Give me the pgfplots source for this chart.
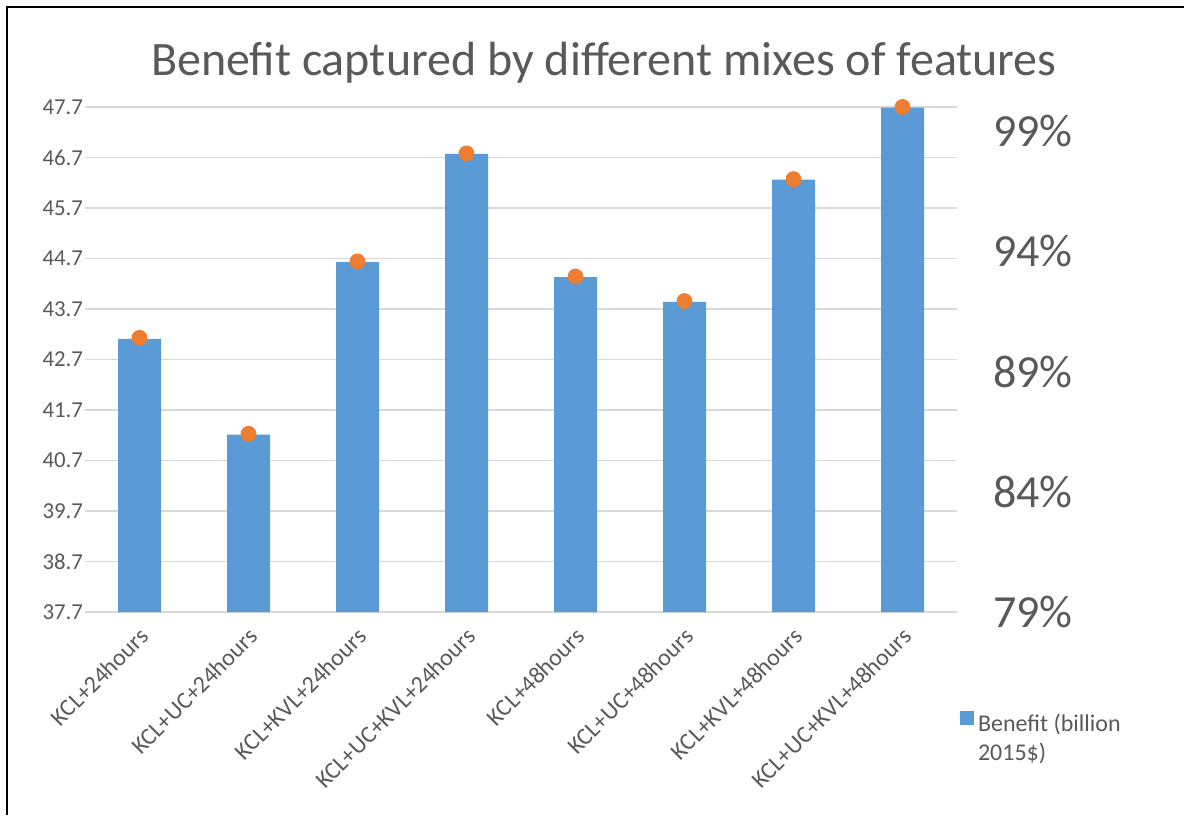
\documentclass[border=0pt]{standalone}
\usepackage{pgfplots}
\usepackage{pgfplotstable}
\pgfplotsset{compat=1.18}
\usepackage{fontspec}
\setmainfont{Carlito}

\definecolor{barblue}{HTML}{5B9BD5}
\definecolor{dotorange}{HTML}{ED7D31}
\definecolor{txtgray}{HTML}{595959}
\definecolor{gridgray}{HTML}{D9D9D9}

% benefit in billion 2015$ and its share of the best mix (percent)
\pgfplotstableread{
idx benefit share
0 43.11 90.40
1 41.21 86.41
2 44.63 93.58
3 46.77 98.07
4 44.33 92.95
5 43.84 91.93
6 46.26 97.00
7 47.69 100.00
}\benefits

\begin{document}
\begin{tikzpicture}
\useasboundingbox (0,0) rectangle (592pt,407.5pt);
\draw[line width=1pt, black] (3.5pt,0pt) -- (3.5pt,404pt) -- (592pt,404pt);

\begin{axis}[
  at={(42.5pt,101.5pt)}, anchor=south west,
  scale only axis, width=436pt, height=252.5pt,
  xmin=-0.5, xmax=7.5, ymin=37.7, ymax=47.7,
  /pgf/number format/assume math mode=true,
  axis line style={draw=none},
  major tick style={draw=none},
  ymajorgrids, grid style={gridgray, line width=0.8pt},
  ytick={37.7,38.7,39.7,40.7,41.7,42.7,43.7,44.7,45.7,46.7,47.7},
  yticklabel style={font=\fontsize{11.4}{14}\selectfont, text=txtgray, xshift=2.5pt,
    /pgf/number format/.cd, fixed, precision=1},
  xtick={0,...,7},
  xticklabels={KCL+24hours,KCL+UC+24hours,KCL+KVL+24hours,KCL+UC+KVL+24hours,
    KCL+48hours,KCL+UC+48hours,KCL+KVL+48hours,KCL+UC+KVL+48hours},
  xticklabel style={rotate=45, anchor=north east, xshift=-2pt, yshift=-1pt,
    font=\fontsize{12}{14}\selectfont, text=txtgray},
  title={Benefit captured by different mixes of features},
  title style={at={(0.595,1)}, anchor=base, yshift=9.5pt,
    font=\fontsize{24}{28}\selectfont, text=txtgray},
  legend style={at={(1.003,-0.193)}, anchor=north west, draw=none, fill=none,
    inner sep=0pt, font=\fontsize{12}{14.5}\selectfont, text=txtgray},
]
\addplot[ybar, bar width=21.5pt, bar shift=0pt, fill=barblue, draw=none,
  legend image code/.code={\fill[barblue] (0pt,-0.5pt) rectangle (7pt,6.5pt);}]
  table[x=idx, y=benefit]{\benefits};
\addlegendentry{\parbox[t]{90pt}{\raggedright\hyphenpenalty=10000\baselineskip=14.5pt Benefit (billion\\2015\$)}}
\end{axis}

\begin{axis}[
  at={(42.5pt,101.5pt)}, anchor=south west,
  scale only axis, width=436pt, height=252.5pt,
  xmin=-0.5, xmax=7.5, ymin=79, ymax=100,
  /pgf/number format/assume math mode=true,
  hide x axis,
  axis y line*=right,
  axis line style={draw=none},
  major tick style={draw=none},
  ytick={79,84,89,94,99},
  yticklabel={\pgfmathprintnumber{\tick}\%},
  yticklabel style={font=\fontsize{23}{26}\selectfont, text=txtgray, xshift=14.5pt},
]
\addplot[only marks, mark=*, mark size=3.75pt, color=dotorange]
  table[x=idx, y=share]{\benefits};
\end{axis}
\end{tikzpicture}
\end{document}
